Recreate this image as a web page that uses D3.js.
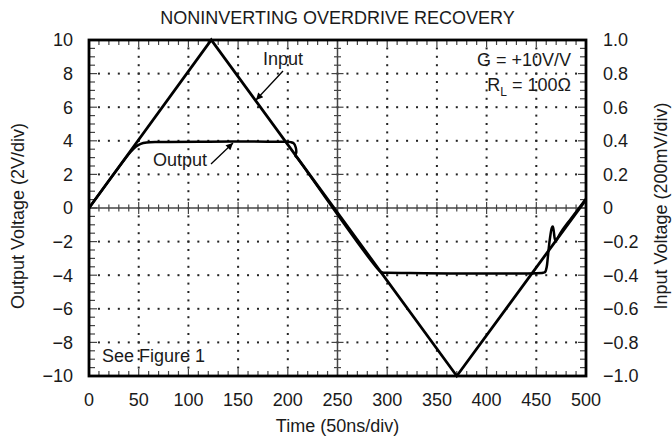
<!DOCTYPE html>
<html>
<head>
<meta charset="utf-8">
<link rel="shortcut icon" href="#">
<script src="https://d3js.org/d3.v7.min.js"></script>
<style>
  body { margin: 0; background: #fff; }
  text { font-family: "Liberation Sans", Arial, sans-serif; font-size: 18px; fill: #1a1a1a; }
</style>
</head>
<body>
<div id="container"></div>
<script>
    // tick values
    var timeTicks = [0, 50, 100, 150, 200, 250, 300, 350, 400, 450, 500];
    var outTicks = [-10, -8, -6, -4, -2, 0, 2, 4, 6, 8, 10];
    var inTicks = [-1.0, -0.8, -0.6, -0.4, -0.2, 0, 0.2, 0.4, 0.6, 0.8, 1.0];

    // input trace (plotted on the output grid, 200mV/div == 2V/div)
    var inputT = [0, 123, 370, 500];
    var inputV = [0, 10, -10, 0.5];

    // output trace
    var outputT = [0, 36, 42, 47, 52, 58, 70, 120, 180, 198, 203, 206, 208, 208.5, 207.5, 210,
                   293, 296, 300, 457, 459, 460.5, 461.5, 462.5, 464, 465.5, 466.5, 467.5, 468.5, 469.5, 475, 485, 500];
    var outputV = [0, 2.9, 3.35, 3.65, 3.82, 3.9, 3.93, 3.95, 3.95, 3.94, 3.92, 3.85, 3.6, 3.3, 3.12, 2.95,
                   -3.78, -3.85, -3.85, -3.85, -3.8, -3.5, -3.0, -2.4, -1.7, -1.2, -1.1, -1.35, -1.8, -1.95, -1.42, -0.62, 0.55];

    var W = 672, H = 441;
    var margin = {top: 40, right: 86, bottom: 65, left: 89};
    var width = W - margin.left - margin.right,
        height = H - margin.top - margin.bottom;

    var svg = d3.select("#container")
      .append("svg")
      .attr("width", W)
      .attr("height", H);

    var g = svg.append("g")
      .attr("transform", "translate(" + margin.left + "," + margin.top + ")");

    var x = d3.scaleLinear().domain([0, 500]).range([0, width]);
    var y = d3.scaleLinear().domain([-10, 10]).range([height, 0]);
    var yR = d3.scaleLinear().domain([-1, 1]).range([height, 0]);

    var xMinor = d3.range(0, 500.01, 10);
    var yMinor = d3.range(-10, 10.01, 0.5);
    var xGrid = timeTicks.filter(function(d) { return d > 0 && d < 500 && d !== 250; });
    var yGrid = outTicks.filter(function(d) { return d > -10 && d < 10 && d !== 0; });

    // dotted grid: horizontal lines
    yGrid.forEach(function(v) {
      g.append("g").selectAll("rect")
        .data(xMinor.filter(function(t) { return t > 0 && t < 500; }))
        .enter().append("rect")
        .attr("x", function(t) { return x(t) - 1; })
        .attr("y", y(v) - 1)
        .attr("width", 2).attr("height", 2)
        .attr("fill", "#222");
    });
    // dotted grid: vertical lines
    xGrid.forEach(function(t) {
      g.append("g").selectAll("rect")
        .data(yMinor.filter(function(v) { return v > -10 && v < 10; }))
        .enter().append("rect")
        .attr("x", x(t) - 1)
        .attr("y", function(v) { return y(v) - 1; })
        .attr("width", 2).attr("height", 2)
        .attr("fill", "#222");
    });

    // center cross axes with ticks on both sides
    var axisCol = "#444";
    g.append("line")
      .attr("x1", 0).attr("x2", width)
      .attr("y1", y(0)).attr("y2", y(0))
      .attr("stroke", axisCol).attr("stroke-width", 1.5);
    g.append("line")
      .attr("x1", x(250)).attr("x2", x(250))
      .attr("y1", 0).attr("y2", height)
      .attr("stroke", axisCol).attr("stroke-width", 1.5);

    g.append("g").selectAll("line")
      .data(xMinor)
      .enter().append("line")
      .attr("x1", function(t) { return x(t); })
      .attr("x2", function(t) { return x(t); })
      .attr("y1", function(t) { return y(0) - (t % 50 === 0 ? 6 : 3.5); })
      .attr("y2", function(t) { return y(0) + (t % 50 === 0 ? 6 : 3.5); })
      .attr("stroke", axisCol).attr("stroke-width", 1.2);
    g.append("g").selectAll("line")
      .data(yMinor)
      .enter().append("line")
      .attr("y1", function(v) { return y(v); })
      .attr("y2", function(v) { return y(v); })
      .attr("x1", function(v) { return x(250) - (v % 2 === 0 ? 6 : 3.5); })
      .attr("x2", function(v) { return x(250) + (v % 2 === 0 ? 6 : 3.5); })
      .attr("stroke", axisCol).attr("stroke-width", 1.2);

    // frame ticks (inward)
    function tickLen(major) { return major ? 7 : 5; }
    g.append("g").selectAll("line")
      .data(xMinor)
      .enter().append("line")
      .attr("x1", function(t) { return x(t); })
      .attr("x2", function(t) { return x(t); })
      .attr("y1", 0)
      .attr("y2", function(t) { return tickLen(t % 50 === 0); })
      .attr("stroke", axisCol).attr("stroke-width", 1.2);
    g.append("g").selectAll("line")
      .data(xMinor)
      .enter().append("line")
      .attr("x1", function(t) { return x(t); })
      .attr("x2", function(t) { return x(t); })
      .attr("y1", height)
      .attr("y2", function(t) { return height - tickLen(t % 50 === 0); })
      .attr("stroke", axisCol).attr("stroke-width", 1.2);
    g.append("g").selectAll("line")
      .data(yMinor)
      .enter().append("line")
      .attr("y1", function(v) { return y(v); })
      .attr("y2", function(v) { return y(v); })
      .attr("x1", 0)
      .attr("x2", function(v) { return tickLen(v % 2 === 0) + 1; })
      .attr("stroke", axisCol).attr("stroke-width", 1.2);
    g.append("g").selectAll("line")
      .data(yMinor)
      .enter().append("line")
      .attr("y1", function(v) { return y(v); })
      .attr("y2", function(v) { return y(v); })
      .attr("x1", width)
      .attr("x2", function(v) { return width - tickLen(v % 2 === 0) - 1; })
      .attr("stroke", axisCol).attr("stroke-width", 1.2);

    // traces
    var inputData = inputT.map(function(t, i) { return [t, inputV[i]]; });
    var outputData = outputT.map(function(t, i) { return [t, outputV[i]]; });

    var lineLin = d3.line()
      .x(function(d) { return x(d[0]); })
      .y(function(d) { return y(d[1]); });
    var lineSmooth = d3.line()
      .curve(d3.curveCatmullRom.alpha(0.5))
      .x(function(d) { return x(d[0]); })
      .y(function(d) { return y(d[1]); });

    g.append("path")
      .datum(outputData)
      .attr("d", lineSmooth)
      .attr("fill", "none")
      .attr("stroke", "#000")
      .attr("stroke-width", 2.5)
      .attr("stroke-linejoin", "round");
    g.append("path")
      .datum(inputData)
      .attr("d", lineLin)
      .attr("fill", "none")
      .attr("stroke", "#000")
      .attr("stroke-width", 2.8)
      .attr("stroke-linejoin", "miter");

    // frame
    g.append("rect")
      .attr("x", 0).attr("y", 0)
      .attr("width", width).attr("height", height)
      .attr("fill", "none")
      .attr("stroke", "#000")
      .attr("stroke-width", 2.8);

    // tick labels
    g.append("g").selectAll("text")
      .data(timeTicks)
      .enter().append("text")
      .attr("x", function(d) { return x(d); })
      .attr("y", height + 30)
      .attr("text-anchor", "middle")
      .text(function(d) { return d; });
    g.append("g").selectAll("text")
      .data(outTicks)
      .enter().append("text")
      .attr("x", -16)
      .attr("y", function(d) { return y(d); })
      .attr("dy", "0.35em")
      .attr("text-anchor", "end")
      .text(function(d) { return d3.format("d")(d); });
    g.append("g").selectAll("text")
      .data(inTicks)
      .enter().append("text")
      .attr("x", width + 17)
      .attr("y", function(d) { return yR(d); })
      .attr("dy", "0.35em")
      .attr("text-anchor", "start")
      .text(function(d) { return d === 0 ? "0" : d3.format(".1f")(d); });

    // titles
    svg.append("text")
      .attr("x", margin.left + width / 2)
      .attr("y", 24)
      .attr("text-anchor", "middle")
      .text("NONINVERTING OVERDRIVE RECOVERY");
    svg.append("text")
      .attr("x", margin.left + width / 2)
      .attr("y", 432)
      .attr("text-anchor", "middle")
      .text("Time (50ns/div)");
    svg.append("text")
      .attr("transform", "translate(24," + (margin.top + height / 2 + 8) + ") rotate(-90)")
      .attr("text-anchor", "middle")
      .text("Output Voltage (2V/div)");
    svg.append("text")
      .attr("transform", "translate(667," + (margin.top + height / 2 - 2) + ") rotate(-90)")
      .attr("text-anchor", "middle")
      .text("Input Voltage (200mV/div)");

    // annotations
    var defs = svg.append("defs");
    defs.append("marker")
      .attr("id", "arrow")
      .attr("viewBox", "0 0 10 10")
      .attr("refX", 10).attr("refY", 5)
      .attr("markerWidth", 10).attr("markerHeight", 7)
      .attr("markerUnits", "userSpaceOnUse")
      .attr("orient", "auto")
      .append("path")
      .attr("d", "M0,0 L10,5 L0,10 Z")
      .attr("fill", "#000");

    svg.append("text").attr("x", 263).attr("y", 65).text("Input");
    svg.append("line")
      .attr("x1", 283).attr("y1", 71).attr("x2", 256).attr("y2", 100)
      .attr("stroke", "#000").attr("stroke-width", 1.3)
      .attr("marker-end", "url(#arrow)");

    svg.append("text").attr("x", 153).attr("y", 166).text("Output");
    svg.append("line")
      .attr("x1", 211).attr("y1", 164).attr("x2", 233).attr("y2", 143)
      .attr("stroke", "#000").attr("stroke-width", 1.3)
      .attr("marker-end", "url(#arrow)");

    svg.append("text").attr("x", 571).attr("y", 66)
      .attr("text-anchor", "end").text("G = +10V/V");
    var rl = svg.append("text").attr("x", 571).attr("y", 91)
      .attr("text-anchor", "end");
    rl.append("tspan").text("R");
    rl.append("tspan").attr("dy", 5).style("font-size", "12px").text("L");
    rl.append("tspan").attr("dy", -5).text(" = 100\u03A9");

    svg.append("text").attr("x", 102).attr("y", 362).text("See Figure 1");
</script>
</body>
</html>
